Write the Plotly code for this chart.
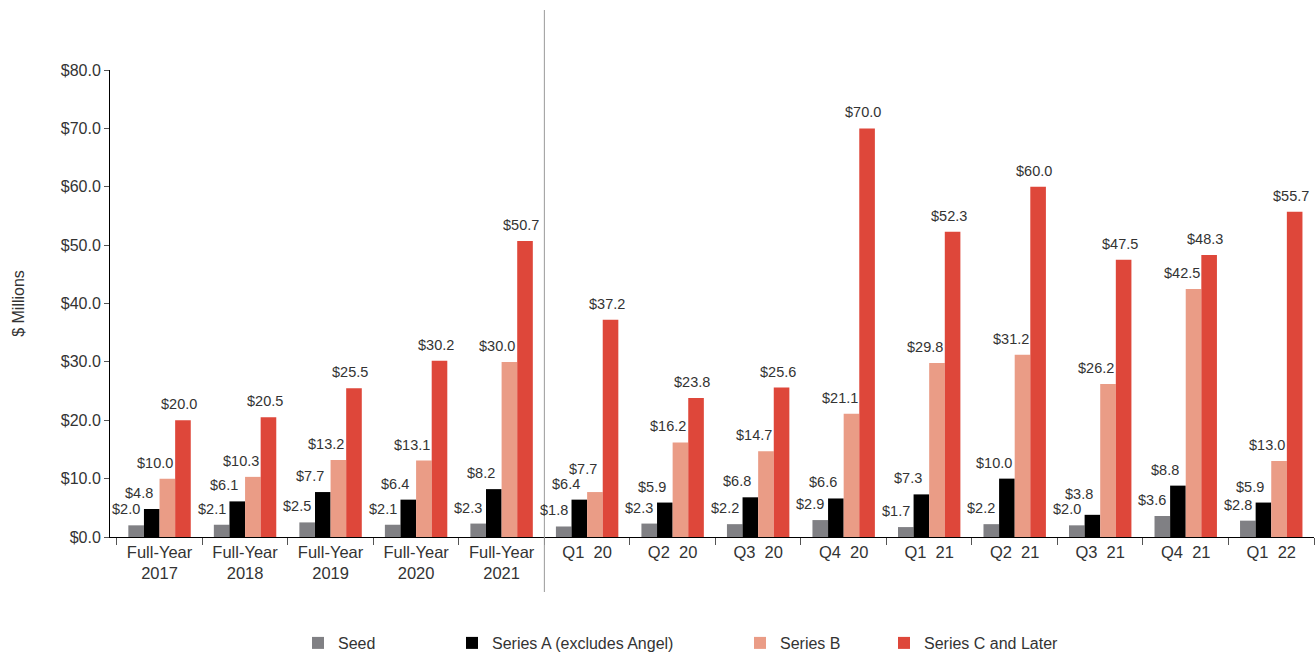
import plotly.graph_objects as go

categories = ["Full-Year<br>2017", "Full-Year<br>2018", "Full-Year<br>2019", "Full-Year<br>2020",
              "Full-Year<br>2021", "Q1\u00a0\u00a020", "Q2\u00a0\u00a020", "Q3\u00a0\u00a020",
              "Q4\u00a0\u00a020", "Q1\u00a0\u00a021", "Q2\u00a0\u00a021", "Q3\u00a0\u00a021",
              "Q4\u00a0\u00a021", "Q1\u00a0\u00a022"]
seed = [2.0, 2.1, 2.5, 2.1, 2.3, 1.8, 2.3, 2.2, 2.9, 1.7, 2.2, 2.0, 3.6, 2.8]
series_a = [4.8, 6.1, 7.7, 6.4, 8.2, 6.4, 5.9, 6.8, 6.6, 7.3, 10.0, 3.8, 8.8, 5.9]
series_b = [10.0, 10.3, 13.2, 13.1, 30.0, 7.7, 16.2, 14.7, 21.1, 29.8, 31.2, 26.2, 42.5, 13.0]
series_c = [20.0, 20.5, 25.5, 30.2, 50.7, 37.2, 23.8, 25.6, 70.0, 52.3, 60.0, 47.5, 48.3, 55.7]

names = ["Seed", "Series A (excludes Angel)", "Series B", "Series C and Later"]
colors = ["#808084", "#000000", "#EA9C86", "#DE473A"]
series = [seed, series_a, series_b, series_c]
legend_ids = ["legend", "legend2", "legend3", "legend4"]

FONT = "Liberation Sans, Arial, Helvetica, sans-serif"
L, R, T, B = 110, 2, 70, 117
W, H = 1316, 654
pw = W - L - R
ph = H - T - B
cat_w = pw / len(categories)
bargap = 0.27
bar_w = cat_w * (1 - bargap) / 4
extra = [-10, -13, -12, -4]
# extra vertical nudges (pixels) for labels that would otherwise collide
label_bump = {(2, 5): 7, (1, 11): 5}

fig = go.Figure()
for i, (nm, col, vals, lg) in enumerate(zip(names, colors, series, legend_ids)):
    fig.add_trace(go.Bar(x=categories, y=vals, name=nm, marker_color=col,
                         marker_line_width=0, legend=lg, showlegend=True))

annotations = []
for i, vals in enumerate(series):
    for j, (c, v) in enumerate(zip(categories, vals)):
        annotations.append(dict(x=c, y=v, xref="x", yref="y", text=f"${v:.1f}",
                                showarrow=False, yanchor="bottom",
                                yshift=6 + label_bump.get((i, j), 0),
                                xshift=(i - 1.5) * bar_w + extra[i],
                                font=dict(family=FONT, size=14.5, color="#333333")))

# legend positions (pixel x of text start)
text_starts = [338, 492, 780, 924]
legend_layout = {}
for lg, ts in zip(legend_ids, text_starts):
    legend_layout[lg] = dict(orientation="h", x=(ts - 40 - L) / pw, xanchor="left",
                             y=(H - B - 643) / ph, yanchor="middle",
                             font=dict(family=FONT, size=16, color="#333333"),
                             bgcolor="rgba(0,0,0,0)")

fig.update_layout(
    width=W, height=H,
    margin=dict(l=L, r=R, t=T, b=B, autoexpand=False),
    showlegend=True,
    barmode="group", bargap=bargap, bargroupgap=0,
    plot_bgcolor="white", paper_bgcolor="white",
    font=dict(family=FONT, size=16, color="#333333"),
    annotations=annotations,
    shapes=[dict(type="line", xref="x", yref="paper", x0=4.5, x1=4.5,
                 y0=(H - B - 592) / ph, y1=(H - B - 10) / ph,
                 line=dict(color="#999999", width=1))],
    xaxis=dict(showline=True, linecolor="black", linewidth=1, ticks="outside",
               tickson="boundaries", ticklen=7, tickcolor="#555555",
               tickfont=dict(family=FONT, size=16.5, color="#333333"), showgrid=False),
    yaxis=dict(range=[0, 80], dtick=10, tickprefix="$", tickformat=".1f",
               showline=True, linecolor="black", linewidth=1, ticks="outside",
               ticklen=5, tickcolor="#555555", showgrid=False, zeroline=False,
               tickfont=dict(family=FONT, size=16, color="#333333"),
               title=dict(text="$ Millions", standoff=32,
                          font=dict(family=FONT, size=16, color="#333333"))),
    **legend_layout,
)

fig.write_html("out.html")
